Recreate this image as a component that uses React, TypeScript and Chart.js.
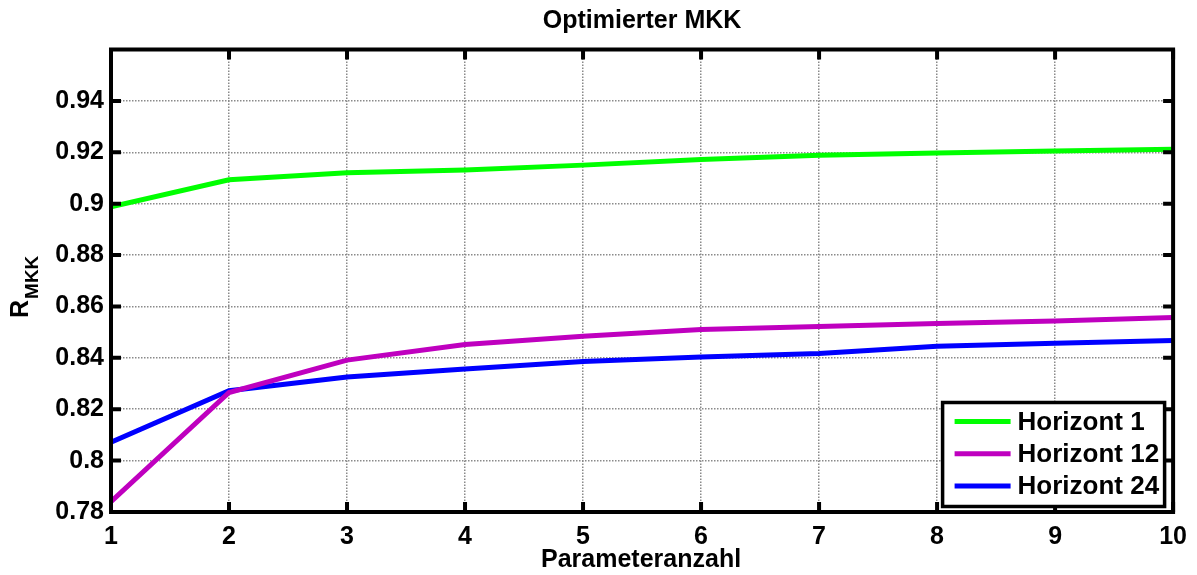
import React, { useEffect, useRef } from "react";
import { Chart, registerables } from "chart.js";

Chart.register(...registerables);

// ---- data ----
const paramCounts = [1, 2, 3, 4, 5, 6, 7, 8, 9, 10];
const horizont1 = [0.8988, 0.9093, 0.912, 0.9131, 0.915, 0.9172, 0.9188, 0.9197, 0.9205, 0.9212];
const horizont12 = [0.784, 0.8265, 0.8391, 0.8452, 0.8484, 0.851, 0.8522, 0.8534, 0.8543, 0.8557];
const horizont24 = [0.8072, 0.8272, 0.8325, 0.8357, 0.8386, 0.8403, 0.8417, 0.8445, 0.8457, 0.8467];
const seriesLabels = ["Horizont 1", "Horizont 12", "Horizont 24"];
const seriesColors = ["#00ff00", "#bf00bf", "#0000ff"];
const yTickValues = [0.78, 0.8, 0.82, 0.84, 0.86, 0.88, 0.9, 0.92, 0.94];
const yTickLabels = ["0.78", "0.8", "0.82", "0.84", "0.86", "0.88", "0.9", "0.92", "0.94"];
const yMin = 0.78;
const yMax = 0.96;
const chartTitle = "Optimierter MKK";
const xTitle = "Parameteranzahl";
const yTitleMain = "R";
const yTitleSub = "MKK";

const FONT = '"Liberation Sans", Arial, Helvetica, sans-serif';

const matlabPlugin = {
  id: "matlabFrame",
  afterDatasetsDraw(chart: any) {
    const { ctx, chartArea: a, scales } = chart;
    const x = scales.x;
    const y = scales.y;
    ctx.save();
    ctx.strokeStyle = "#000";
    ctx.lineWidth = 4;
    ctx.lineCap = "butt";
    const tl = 10;
    ctx.beginPath();
    paramCounts.forEach((v) => {
      const px = x.getPixelForValue(v);
      ctx.moveTo(px, a.bottom);
      ctx.lineTo(px, a.bottom - tl);
      ctx.moveTo(px, a.top);
      ctx.lineTo(px, a.top + tl);
    });
    yTickValues.forEach((v) => {
      const py = y.getPixelForValue(v);
      ctx.moveTo(a.left, py);
      ctx.lineTo(a.left + tl, py);
      ctx.moveTo(a.right, py);
      ctx.lineTo(a.right - tl, py);
    });
    ctx.stroke();
    ctx.lineJoin = "miter";
    ctx.strokeRect(a.left, a.top, a.right - a.left, a.bottom - a.top);
    ctx.restore();
  },
  afterDraw(chart: any) {
    const { ctx, chartArea: a } = chart;
    ctx.save();
    // legend
    const lw = 222;
    const lh = 104;
    const lx = a.right - 8.5 - lw;
    const ly = a.bottom - 5.5 - lh;
    ctx.fillStyle = "#fff";
    ctx.fillRect(lx, ly, lw, lh);
    ctx.strokeStyle = "#000";
    ctx.lineWidth = 3.5;
    ctx.strokeRect(lx, ly, lw, lh);
    ctx.font = `bold 26px ${FONT}`;
    ctx.textBaseline = "middle";
    ctx.textAlign = "left";
    chart.data.datasets.forEach((ds: any, i: number) => {
      const ry = ly + 19 + i * 32.3;
      ctx.strokeStyle = ds.borderColor;
      ctx.lineWidth = 5;
      ctx.beginPath();
      ctx.moveTo(lx + 12, ry);
      ctx.lineTo(lx + 68, ry);
      ctx.stroke();
      ctx.fillStyle = "#000";
      ctx.fillText(ds.label, lx + 75, ry + 1);
    });
    // title
    const cx = (a.left + a.right) / 2;
    ctx.fillStyle = "#000";
    ctx.textAlign = "center";
    ctx.textBaseline = "alphabetic";
    ctx.font = `bold 25px ${FONT}`;
    ctx.fillText(chartTitle, cx, 28);
    // x title
    ctx.font = `bold 25px ${FONT}`;
    ctx.fillText(xTitle, cx - 1, 567);
    // y title with subscript
    ctx.translate(28, 318);
    ctx.rotate(-Math.PI / 2);
    ctx.textAlign = "left";
    ctx.font = `bold 25px ${FONT}`;
    ctx.fillText(yTitleMain, 0, 0);
    const w = ctx.measureText(yTitleMain).width;
    ctx.font = `bold 19px ${FONT}`;
    ctx.fillText(yTitleSub, w + 1, 10);
    ctx.restore();
  },
};

export default function App() {
  const canvasRef = useRef<HTMLCanvasElement | null>(null);

  useEffect(() => {
    const canvas = canvasRef.current;
    if (!canvas) return;
    const series = [horizont1, horizont12, horizont24];
    const chart = new Chart(canvas, {
      type: "line",
      data: {
        datasets: series.map((vals, i) => ({
          label: seriesLabels[i],
          data: paramCounts.map((p, j) => ({ x: p, y: vals[j] })),
          borderColor: seriesColors[i],
          backgroundColor: seriesColors[i],
          borderWidth: 5,
          pointRadius: 0,
          tension: 0,
          fill: false,
        })),
      },
      options: {
        responsive: false,
        animation: false,
        devicePixelRatio: 1,
        layout: { padding: { top: 49.5, right: 22, left: 0, bottom: 0 } },
        plugins: {
          legend: { display: false },
          title: { display: false },
          tooltip: { enabled: false },
        },
        scales: {
          x: {
            type: "linear",
            min: paramCounts[0],
            max: paramCounts[paramCounts.length - 1],
            afterBuildTicks: (scale: any) => {
              scale.ticks = paramCounts.map((v) => ({ value: v }));
            },
            afterFit: (scale: any) => {
              scale.height = 63;
            },
            ticks: {
              color: "#000",
              font: { family: FONT, size: 25, weight: "bold" },
              padding: 10,
              maxRotation: 0,
              callback: (v: any) => String(v),
            },
            grid: { color: "#8a8a8a", lineWidth: 1.5, drawTicks: false },
            border: { display: false, dash: [1.5, 1.5] },
          },
          y: {
            type: "linear",
            min: yMin,
            max: yMax,
            afterBuildTicks: (scale: any) => {
              scale.ticks = [...yTickValues, yMax].map((v) => ({ value: v }));
            },
            afterFit: (scale: any) => {
              scale.width = 111;
            },
            ticks: {
              color: "#000",
              font: { family: FONT, size: 25, weight: "bold" },
              padding: 7,
              callback: (v: any) => {
                const idx = yTickValues.findIndex((t) => Math.abs(t - Number(v)) < 1e-6);
                return idx >= 0 ? yTickLabels[idx] : "";
              },
            },
            grid: { color: "#8a8a8a", lineWidth: 1.5, drawTicks: false },
            border: { display: false, dash: [1.5, 1.5] },
          },
        },
      },
      plugins: [matlabPlugin],
    } as any);
    return () => chart.destroy();
  }, []);

  return (
    <div style={{ position: "absolute", left: 0, top: 0, width: 1197, height: 575, background: "#fff" }}>
      <canvas ref={canvasRef} width={1197} height={575} style={{ display: "block", width: 1197, height: 575 }} />
    </div>
  );
}
